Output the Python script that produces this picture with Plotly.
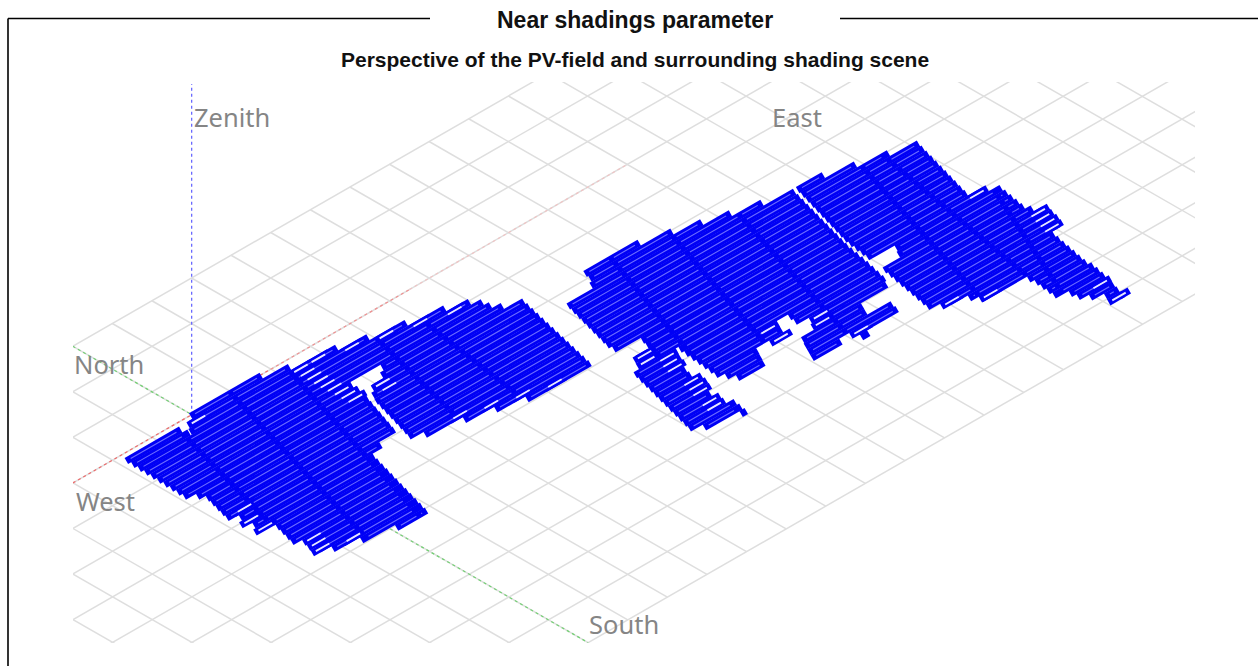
import plotly.graph_objects as go

# ---------- scene data, in ground-grid units (i = west->east, j = north->south) ----------
grid_i = list(range(-16, 32))
grid_j = list(range(0, 14))
row_first_j = 3.36 - 0.168 * 4
row_pitch = 0.168
row_count = 62

west_field = [(-4.84,3.14),(-3.48,3.14),(-3.42,3.38),(-2.97,2.95),(-1.59,2.97),(-.75,3.11),(-.70,3.24),(.02,3.27),
              (.685,3.48),(1.39,3.62),(2.09,3.78),(2.77,3.91),(3.12,4.11),(3.21,4.52),(3.71,4.60),(3.15,6.96),
              (2.17,7.0),(1.53,6.88),(.88,6.70),(.21,6.52),(-.77,6.33),(-.35,4.92),(-.04,4.65),(.49,4.45),(.40,4.31),
              (-.32,4.30),(-.36,4.70),(-.79,5.95),(-1.58,6.11),(-2.15,8.10),(-2.91,8.15),(-2.88,7.95),(-3.15,8.03),
              (-3.77,7.85),(-4.39,7.66),(-4.20,7.15),(-4.54,7.08),(-4.34,6.34),(-4.69,6.37),(-4.58,5.95),(-4.83,5.71),
              (-4.61,4.90),(-4.9,4.83)]
middle_field = [(5.08,4.80),(6.45,4.78),(6.41,4.96),(7.10,4.95),(7.08,5.11),(7.70,5.11),(7.66,5.25),(8.24,5.30),
                (8.21,5.49),(8.87,5.45),(8.85,5.61),(9.53,5.65),(9.0,7.56),(8.89,8.15),(8.72,8.89),(7.96,9.02),
                (7.35,9.06),(7.06,9.04),(7.17,8.66),(6.64,8.70),(6.69,8.40),(6.39,8.37),(6.28,8.69),(5.56,8.72),
                (5.36,9.09),(4.64,9.19),(4.74,9.0),(4.48,8.83),(4.60,7.69),(4.15,7.60),(4.34,6.99),(3.72,6.88),
                (4.16,5.27),(4.97,5.20)]
lower_right_field = [(6.41,8.98),(7.04,8.95),(7.56,8.9),(7.94,8.92),(7.77,9.25),(8.32,9.25),(8.23,9.58),(7.15,9.78),
                     (7.23,9.51),(6.02,9.70),(6.27,9.20)]
bottom_field = [(3.50,7.61),(4.15,7.68),(4.33,7.83),(4.30,7.98),(3.93,9.41),(4.15,9.58),(4.08,9.94),(2.95,9.69)]
bottom_top_field = [(3.91,7.29),(4.19,7.34),(4.07,7.58),(3.76,7.57)]
east_field = [(9.60,5.67),(10.27,5.60),(10.22,5.78),(10.88,5.83),(10.88,6.0),(11.55,6.01),(11.54,6.14),(12.15,6.17),
              (11.63,7.99),(11.96,8.03),(11.97,8.14),(12.21,8.21),(12.07,9.02),(12.30,9.17),(12.11,9.86),(11.86,9.90),
              (11.64,11.0),(11.67,11.10),(11.57,11.58),(11.46,11.91),(11.43,12.10),(11.15,12.09),(11.20,11.95),
              (10.92,11.85),(10.93,11.68),(10.71,11.55),(10.77,11.37),(10.50,11.35),(10.58,10.59),(9.35,10.39),
              (9.39,10.21),(9.05,10.23),(9.05,10.02),(8.64,10.01),(8.94,8.45),(9.54,8.39),(9.56,8.12),(8.99,8.08),(9.07,7.47)]
fields = [west_field, middle_field, lower_right_field, bottom_field, bottom_top_field, east_field]

# block boundaries where the rows of modules are interrupted: i at j, drift of i per j
seam_i = [-3.56,-2.12,-.75,.97,1.91,5.52,6.95,8.32,10.9,11.05,11.79]
seam_j = [3.4,3.31,3.11,3.82,4.33,5.46,5.29,5.47,6.07,8.07,8.81]
seam_drift = [-.28,-.30,-.32,-.26,-.15,-.354,-.338,-.315,-.316,-.185,-.45]

# single isolated tables at the field borders
table_i = [-.60,-.60,-.60,-.60,-.60,-.59,-.58,-.58,-.57,-.16,.52,1.22,1.91,2.61,-3.02,2.28,1.64,1.01,.39,.12,.12,
           -4.38,-4.55,-4.53,-4.14,-4.19,-4.26,-3.65,4.04,3.95,4.27,4.18,4.13,4.04,4.0,3.93,3.83,3.78,
           6.15,6.14,7.14,7.02,7.32,11.76,12.13,12.07,12.03,11.97,9.11,9.75,11.31,11.34]
table_j = [3.36,3.53,3.70,3.86,4.03,4.20,4.37,4.53,4.70,3.32,3.50,3.67,3.83,3.99,3.17,6.93,6.77,6.60,6.44,4.67,4.86,
           5.79,6.10,6.30,7.21,7.38,7.57,7.77,7.37,7.55,7.75,7.96,8.14,8.51,8.69,8.89,9.22,9.42,
           8.46,8.67,8.72,8.94,9.61,8.07,9.22,9.40,9.61,9.79,10.12,10.50,12.06,11.65]

zenith_height = 14.5
direction_labels = ["Zenith", "East", "North", "West", "South"]
label_x = [232, 797, 109, 105.5, 623.5]
label_y = [117.5, 117.5, 363.5, 500.5, 624]


# ---------- projection of the ground plane to the picture ----------
def px(i, j):
    return 191.5 + 39.6 * i + 39.65 * j


def py(i, j, z=0.0):
    return 278.0 - 22.75 * i + 22.8 * j - 22.8 * z


def polyline(points):
    return [px(a, b) for a, b in points] + [None], [py(a, b) for a, b in points] + [None]


def row_spans(poly, j):
    cuts = []
    for (a0, b0), (a1, b1) in zip(poly, poly[1:] + poly[:1]):
        if (b0 <= j) != (b1 <= j):
            cuts.append(a0 + (j - b0) / (b1 - b0) * (a1 - a0))
    cuts.sort()
    return list(zip(cuts[0::2], cuts[1::2]))


gx, gy = [], []
for j in grid_j:
    x, y = polyline([(grid_i[0], j), (grid_i[-1], j)])
    gx += x; gy += y
for i in grid_i:
    x, y = polyline([(i, grid_j[0]), (i, grid_j[-1])])
    gx += x; gy += y

bx, by, sx, sy = [], [], [], []
for k in range(row_count):
    j = row_first_j + k * row_pitch
    cuts_at = sorted(s + d * (j - j0) for s, j0, d in zip(seam_i, seam_j, seam_drift))
    for poly in fields:
        for a, b in row_spans(poly, j):
            x, y = polyline([(a, j), (b, j)])
            bx += x; by += y
            stops = [a + .05] + [c for c in cuts_at if a + .05 < c < b - .05] + [b - .05]
            for s0, s1 in zip(stops, stops[1:]):
                if s1 - s0 > .14:
                    x, y = polyline([(s0 + .06, j), (s1 - .06, j)])
                    sx += x; sy += y

tbx, tby, twx, twy = [], [], [], []
for ti, tj in zip(table_i, table_j):
    tj = row_first_j + round((tj - row_first_j) / row_pitch) * row_pitch
    x, y = polyline([(ti - .26, tj), (ti + .26, tj)])
    tbx += x; tby += y
    x, y = polyline([(ti - .17, tj), (ti + .17, tj)])
    twx += x; twy += y

fig = go.Figure()
fig.add_trace(go.Scatter(x=gx, y=gy, mode="lines", line=dict(color="#dedede", width=1.5), hoverinfo="skip"))

# coordinate axes, dotted; the east axis fades away
for i0, i1, col in [(-6, -1, "#ee6a6a"), (-1, 2.5, "#f09090"), (2.5, 8, "#f0c4c4")]:
    x, y = polyline([(i0, 3), (i1, 3)])
    fig.add_trace(go.Scatter(x=x, y=y, mode="lines", line=dict(color=col, width=1.2, dash="dot"), hoverinfo="skip"))
x, y = polyline([(-3, 0), (-3, 13)])
fig.add_trace(go.Scatter(x=x, y=y, mode="lines", line=dict(color="#74d074", width=1.2, dash="dot"), hoverinfo="skip"))
fig.add_trace(go.Scatter(x=[px(-3, 3)] * 2, y=[py(-3, 3), py(-3, 3, zenith_height)], mode="lines",
                         line=dict(color="#6a6aff", width=1.3, dash="dot"), hoverinfo="skip"))

fig.add_trace(go.Scatter(x=bx, y=by, mode="lines", line=dict(color="#0000f5", width=7.0), hoverinfo="skip"))
fig.add_trace(go.Scatter(x=tbx, y=tby, mode="lines", line=dict(color="#0000f5", width=7.0), hoverinfo="skip"))
fig.add_trace(go.Scatter(x=sx, y=sy, mode="lines", line=dict(color="#6c6cff", width=1.1), hoverinfo="skip"))
fig.add_trace(go.Scatter(x=twx, y=twy, mode="lines", line=dict(color="#e8e8ff", width=1.8), hoverinfo="skip"))

W, H = 1258, 666
annotations = [
    dict(text="<b>Near shadings parameter</b>", x=634.5 / W, y=1 - 20 / H, xref="paper", yref="paper",
         xanchor="center", yanchor="middle", showarrow=False,
         font=dict(family="Liberation Sans", size=23, color="#111111")),
    dict(text="<b>Perspective of the PV-field and surrounding shading scene</b>", x=634.5 / W, y=1 - 60 / H,
         xref="paper", yref="paper", xanchor="center", yanchor="middle", showarrow=False,
         font=dict(family="Liberation Sans", size=21, color="#111111")),
]
for t, lx, ly in zip(direction_labels, label_x, label_y):
    annotations.append(dict(text=t, x=lx / W, y=1 - ly / H, xref="paper", yref="paper", showarrow=False,
                            xanchor="center", yanchor="middle",
                            font=dict(family="Noto Sans", size=25.5, color="#858585")))

frame = dict(type="line", xref="paper", yref="paper", line=dict(color="#000000", width=1.6))
shapes = [
    dict(frame, x0=8 / W, x1=430 / W, y0=1 - 18.5 / H, y1=1 - 18.5 / H),
    dict(frame, x0=840 / W, x1=1, y0=1 - 18.5 / H, y1=1 - 18.5 / H),
    dict(frame, x0=8 / W, x1=8 / W, y0=1 - 18.5 / H, y1=0),
]

fig.update_layout(
    width=W, height=H, margin=dict(l=0, r=0, t=0, b=0), showlegend=False,
    paper_bgcolor="white", plot_bgcolor="white", annotations=annotations, shapes=shapes,
    xaxis=dict(domain=[73 / W, 1195 / W], range=[73, 1195], visible=False, fixedrange=True),
    yaxis=dict(domain=[1 - 643 / H, 1 - 82 / H], range=[643, 82], visible=False, fixedrange=True),
)
fig.write_html("out.html", config=dict(displayModeBar=False),
               post_script="document.body.style.margin='0';document.documentElement.style.overflow='hidden';")
